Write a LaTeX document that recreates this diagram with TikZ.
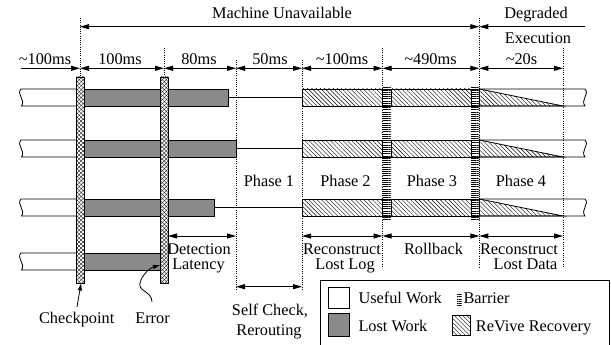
\documentclass[tikz,border=0pt]{standalone}
\usepackage{fontspec}
\setmainfont{Liberation Serif}
\usetikzlibrary{patterns.meta,arrows.meta}
\definecolor{lostgray}{RGB}{138,138,138}
\tikzset{
  lbl/.style={font=\fontsize{16.3}{18}\selectfont, inner sep=0pt, anchor=base},
  vline/.style={line width=0.5pt, dash pattern=on 0.6pt off 1.6pt},
  bar/.style={line width=0.8pt},
  lost/.style={bar, fill=lostgray},
  rev/.style={bar, pattern={Lines[angle=-45,distance=3pt,line width=0.4pt]}},
  barpat/.style={pattern={Lines[distance=2.2pt,line width=0.4pt]}},
  xpat1/.style={pattern={Lines[angle=45,distance=2.8pt,line width=0.35pt]}},
  xpat2/.style={pattern={Lines[angle=-45,distance=2.8pt,line width=0.35pt]}},
  tip/.tip={Triangle[length=9pt,width=5pt]},
  arr/.style={line width=0.8pt, tip-tip},
  rarr/.style={line width=0.8pt, -tip},
  larr/.style={line width=0.8pt, tip-},
}
\begin{document}
\begin{tikzpicture}[x=1pt,y=-1pt]
\useasboundingbox (0,0) rectangle (611,345);
\clip (0,0) rectangle (611,345);

% dotted guide lines
\draw[vline] (80,18) -- (80,283);
\draw[vline] (164,48) -- (164,283);
\draw[vline] (236,60) -- (236,290);
\draw[vline] (302,60) -- (302,290);
\draw[vline] (382.5,48) -- (382.5,268);
\draw[vline] (479.3,18) -- (479.3,268);
\draw[vline] (563,48) -- (563,266);

% top labels
\node[lbl] (mu) at (282,18.3) {Machine Unavailable};
\node[lbl] (deg) at (536,18.3) {Degraded};
\node[lbl] (exe) at (538,43.3) {Execution};
\coordinate (muL) at (80,26.7);
\coordinate (muR) at (479.3,26.7);
\coordinate (degR) at (585,26.7);
\draw[arr] (muL) -- (muR);
\draw[larr] (muR) -- (degR);

% duration row
\coordinate (d0) at (20.7,68.3);
\coordinate (d1) at (80,68.3);
\coordinate (d2) at (164,68.3);
\coordinate (d3) at (236,68.3);
\coordinate (d4) at (302,68.3);
\coordinate (d5) at (382.5,68.3);
\coordinate (d6) at (479.3,68.3);
\coordinate (d7) at (563,68.3);
\draw[rarr] (d0) -- (d1);
\draw[arr] (d1) -- (d2);
\draw[arr] (d2) -- (d3);
\draw[arr] (d3) -- (d4);
\draw[arr] (d4) -- (d5);
\draw[arr] (d5) -- (d6);
\draw[arr] (d6) -- (d7);
\node[lbl] (t0) at (45,64.5) {\textasciitilde100ms};
\node[lbl] (t1) at (120,64.5) {100ms};
\node[lbl] (t2) at (199,64.5) {80ms};
\node[lbl] (t3) at (270,64.5) {50ms};
\node[lbl] (t4) at (342,64.5) {\textasciitilde100ms};
\node[lbl] (t5) at (430.5,64.5) {\textasciitilde490ms};
\node[lbl] (t6) at (521.5,64.5) {\textasciitilde20s};

% barrier patterns spanning rows 1-3
\path[barpat] (382.5,87) rectangle (391,219);
\path[barpat] (471,87) rectangle (479.3,219);

% rows 1-3
\foreach \t/\e in {89/228,140/236,199/214}{
  \pgfmathsetmacro{\b}{\t+17}
  \pgfmathsetmacro{\m}{\t+8.5}
  % useful work (left)
  \fill[white] (21,\t) rectangle (76,\b);
  \draw[bar] (76,\t) -- (21,\t) .. controls (16,\t+5) and (26,\b-6) .. (21.5,\b) -- (76,\b);
  % lost work
  \draw[lost] (76,\t) rectangle (\e,\b);
  % idle line
  \draw[bar] (\e,\m) -- (302,\m);
  % revive recovery
  \draw[rev] (302,\t) rectangle (382.5,\b);
  \draw[bar] (382.5,\t) rectangle (391,\b);
  \draw[rev] (391,\t) rectangle (471,\b);
  \draw[bar] (471,\t) rectangle (479.3,\b);
  % degraded execution
  \draw[bar] (479.3,\t) -- (585,\t) .. controls (590,\t+5) and (580,\b-6) .. (585,\b) -- (479.3,\b);
  \draw[rev] (479.3,\t) -- (563,\b) -- (479.3,\b) -- cycle;
}
% row 4
\fill[white] (21,253) rectangle (76,270);
\draw[bar] (76,253) -- (21,253) .. controls (16,258) and (26,264) .. (21.5,270) -- (76,270);
\draw[lost] (76,253) rectangle (160,270);

% checkpoint and error bars
\foreach \x in {76,160}{
  \fill[white] (\x,77) rectangle (\x+8,283);
  \path[xpat1] (\x,77) rectangle (\x+8,283);
  \path[xpat2] (\x,77) rectangle (\x+8,283);
  \draw[bar] (\x,77) rectangle (\x+8,283);
}

% phase labels
\node[lbl] (p1) at (269,186) {Phase 1};
\node[lbl] (p2) at (345.5,186) {Phase 2};
\node[lbl] (p3) at (432,186) {Phase 3};
\node[lbl] (p4) at (521,186) {Phase 4};

% bottom arrows
\coordinate (b0) at (168,236);
\coordinate (b1) at (236,236);
\coordinate (b2) at (302,236);
\coordinate (b3) at (382.5,236);
\coordinate (b4) at (479.3,236);
\coordinate (b5) at (563,236);
\draw[arr] (b0) -- (b1);
\draw[arr] (b2) -- (b3);
\draw[arr] (b3) -- (b4);
\draw[arr] (b4) -- (b5);
\coordinate (s0) at (236,286.7);
\coordinate (s1) at (302,286.7);
\draw[arr] (s0) -- (s1);

\node[lbl] (dl1) at (199,254) {Detection};
\node[lbl] (dl2) at (198.5,269) {Latency};
\node[lbl] (rl1) at (342,254.5) {Reconstruct};
\node[lbl] (rl2) at (345,269.5) {Lost Log};
\node[lbl] (rb) at (433.5,254.5) {Rollback};
\node[lbl] (rd1) at (519,254.5) {Reconstruct};
\node[lbl] (rd2) at (525.5,269.5) {Lost Data};
\node[lbl] (sc1) at (270,315) {Self Check,};
\node[lbl] (sc2) at (269,335) {Rerouting};

% checkpoint / error pointers
\node[lbl] (ck) at (76.7,323.3) {Checkpoint};
\node[lbl] (er) at (152.5,323.3) {Error};
\coordinate (ckS) at (77,307);
\coordinate (ckT) at (81,283.5);
\draw[line width=0.8pt,-{Triangle[length=7pt,width=4pt]}] (ckS) -- (ckT);
\coordinate (erS) at (152,302);
\coordinate (erT) at (160,265);
\draw[line width=0.8pt,-{Triangle[length=7pt,width=4pt]}] (erS) .. controls (152,290) and (135,292) .. (141,280) .. controls (144,273) and (150,268) .. (erT);

% legend
\draw[bar] (320.7,280) rectangle (609.5,352);
\draw[bar, fill=white] (328,287) rectangle (349,308);
\node[lbl, anchor=base west] (lg1) at (358.3,303.3) {Useful Work};
\draw[lost] (328,313.5) rectangle (349,336.5);
\node[lbl, anchor=base west] (lg2) at (358.3,331.7) {Lost Work};
\path[barpat] (456.5,294) rectangle (461.5,306.5);
\node[lbl, anchor=base west] (lg3) at (463.3,303.3) {Barrier};
\draw[rev] (452.7,315) rectangle (470,335);
\node[lbl, anchor=base west] (lg4) at (475.7,331.7) {ReVive Recovery};
\end{tikzpicture}
\end{document}
